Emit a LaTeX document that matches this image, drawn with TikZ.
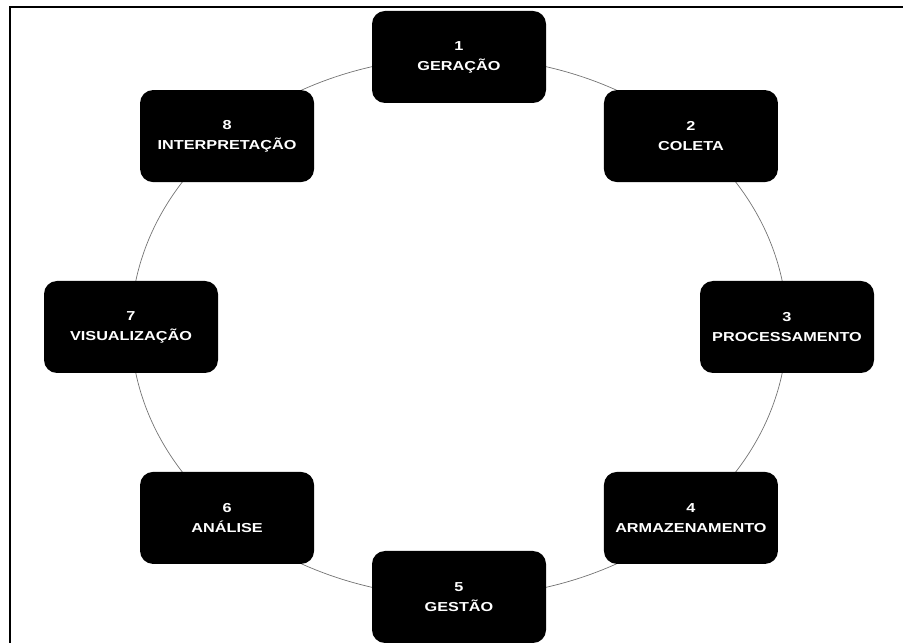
\documentclass[tikz,border=0pt]{standalone}
\usepackage{fontspec}
\newfontfamily\stagefont[FakeStretch=1.25]{Liberation Sans}
\usetikzlibrary{backgrounds}
\tikzset{
  stage/.style={fill=black, rounded corners=13pt, minimum width=174pt, minimum height=92pt,
    inner sep=0pt, text=white, align=center,
    font=\stagefont\bfseries\fontsize{13pt}{20pt}\selectfont},
  ring/.style={draw=black!55, line width=0.7pt},
  frame/.style={draw=black, line width=2pt}
}
\begin{document}
\begin{tikzpicture}[x=1pt,y=1pt]
\useasboundingbox (0,0) rectangle (903,643);
\coordinate (C) at (459,316);
\node[stage] (n1) at ([shift={(90:328pt and 270pt)}]C) {1\\GERAÇÃO};
\node[stage] (n2) at ([shift={(45:328pt and 270pt)}]C) {2\\COLETA};
\node[stage] (n3) at ([shift={(0:328pt and 270pt)}]C) {3\\PROCESSAMENTO};
\node[stage] (n4) at ([shift={(-45:328pt and 270pt)}]C) {4\\ARMAZENAMENTO};
\node[stage] (n5) at ([shift={(-90:328pt and 270pt)}]C) {5\\GESTÃO};
\node[stage] (n6) at ([shift={(-135:328pt and 270pt)}]C) {6\\ANÁLISE};
\node[stage] (n7) at ([shift={(180:328pt and 270pt)}]C) {7\\VISUALIZAÇÃO};
\node[stage] (n8) at ([shift={(135:328pt and 270pt)}]C) {8\\INTERPRETAÇÃO};
\begin{scope}[on background layer]
\draw[ring] (n1.center) arc[start angle=90, end angle=45, x radius=328pt, y radius=270pt];
\draw[ring] (n2.center) arc[start angle=45, end angle=0, x radius=328pt, y radius=270pt];
\draw[ring] (n3.center) arc[start angle=0, end angle=-45, x radius=328pt, y radius=270pt];
\draw[ring] (n4.center) arc[start angle=-45, end angle=-90, x radius=328pt, y radius=270pt];
\draw[ring] (n5.center) arc[start angle=-90, end angle=-135, x radius=328pt, y radius=270pt];
\draw[ring] (n6.center) arc[start angle=-135, end angle=-180, x radius=328pt, y radius=270pt];
\draw[ring] (n7.center) arc[start angle=180, end angle=135, x radius=328pt, y radius=270pt];
\draw[ring] (n8.center) arc[start angle=135, end angle=90, x radius=328pt, y radius=270pt];
\end{scope}
\draw[frame] (903,636) -- (9.5,636) -- (9.5,0);
\end{tikzpicture}
\end{document}
